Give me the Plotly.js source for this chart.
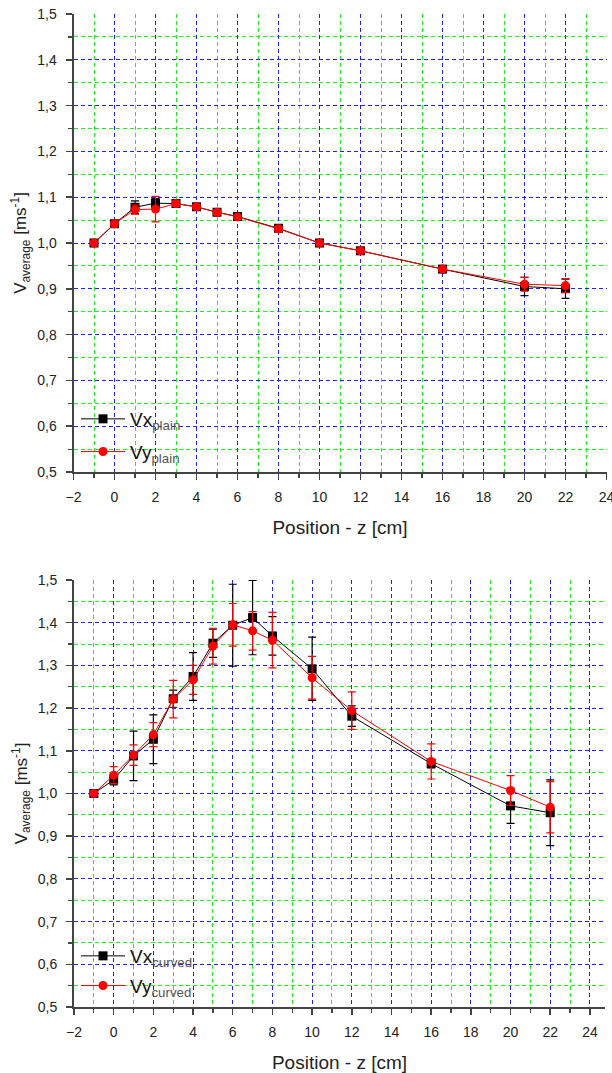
<!DOCTYPE html>
<html>
<head>
<meta charset="utf-8">
<script src="https://cdn.plot.ly/plotly-3.0.1.min.js"></script>
<style>html,body{margin:0;padding:0;background:#fff;}#chart{width:612px;height:1073px;}</style>
</head>
<body>
<div id="chart"></div>
<script>
// ---- data: plain (top panel) ----
const zPlain = [-1, 0, 1, 2, 3, 4, 5, 6, 8, 10, 12, 16, 20, 22];
const vxPlain = [1.000, 1.042, 1.078, 1.087, 1.086, 1.079, 1.067, 1.058, 1.032, 1.000, 0.983, 0.943, 0.905, 0.900];
const vxPlainErr = [0.003, 0.004, 0.014, 0.010, 0.006, 0.006, 0.006, 0.006, 0.005, 0.004, 0.004, 0.005, 0.020, 0.021];
const vyPlain = [1.000, 1.042, 1.073, 1.074, 1.086, 1.079, 1.067, 1.057, 1.031, 1.000, 0.983, 0.943, 0.910, 0.907];
const vyPlainErr = [0.003, 0.004, 0.010, 0.028, 0.006, 0.005, 0.005, 0.005, 0.004, 0.004, 0.004, 0.005, 0.015, 0.015];

// ---- data: curved (bottom panel) ----
const zCurved = [-1, 0, 1, 2, 3, 4, 5, 6, 7, 8, 10, 12, 16, 20, 22];
const vxCurved = [1.000, 1.032, 1.088, 1.127, 1.222, 1.274, 1.352, 1.394, 1.412, 1.369, 1.292, 1.181, 1.070, 0.971, 0.955];
const vxCurvedErr = [0.004, 0.012, 0.058, 0.057, 0.020, 0.056, 0.033, 0.096, 0.087, 0.045, 0.074, 0.024, 0.010, 0.041, 0.077];
const vyCurved = [1.000, 1.043, 1.090, 1.138, 1.221, 1.266, 1.345, 1.395, 1.381, 1.359, 1.271, 1.194, 1.075, 1.007, 0.968];
const vyCurvedErr = [0.004, 0.020, 0.024, 0.028, 0.044, 0.034, 0.042, 0.050, 0.045, 0.065, 0.050, 0.044, 0.041, 0.035, 0.060];

// ---- tick labels / positions ----
const xTickVals = [-2, 0, 2, 4, 6, 8, 10, 12, 14, 16, 18, 20, 22, 24];
const xMinorVals = [-1, 1, 3, 5, 7, 9, 11, 13, 15, 17, 19, 21, 23];
const yTickVals = [0.5, 0.6, 0.7, 0.8, 0.9, 1.0, 1.1, 1.2, 1.3, 1.4, 1.5];
const yMinorVals = [0.55, 0.65, 0.75, 0.85, 0.95, 1.05, 1.15, 1.25, 1.35, 1.45];

const FONT = 'Liberation Sans, Arial, sans-serif';
const BLACK = '#000000', RED = '#ff0000';
const BLUE_GRID = '#2020ff', GREEN_GRID = '#22ee22';

function series(x, y, err, color, symbol, name, xa, ya, legend, group) {
  return {
    x: x, y: y, type: 'scatter', mode: 'lines+markers', name: name,
    xaxis: xa, yaxis: ya, legend: legend, legendgroup: group,
    line: {color: color, width: 1},
    marker: {color: color, symbol: symbol, size: 9},
    error_y: {type: 'data', array: err, visible: true, color: color, thickness: 1.2, width: 4}
  };
}

const traces = [
  series(zPlain, vxPlain, vxPlainErr, BLACK, 'square', 'Vx<sub><span style="color:#555">plain</span></sub>', 'x', 'y', 'legend', 'a'),
  series(zPlain, vyPlain, vyPlainErr, RED, 'circle', 'Vy<sub><span style="color:#555">plain</span></sub>', 'x', 'y', 'legend', 'b'),
  series(zCurved, vxCurved, vxCurvedErr, BLACK, 'square', 'Vx<sub><span style="color:#555">curved</span></sub>', 'x2', 'y2', 'legend2', 'c'),
  series(zCurved, vyCurved, vyCurvedErr, RED, 'circle', 'Vy<sub><span style="color:#555">curved</span></sub>', 'x2', 'y2', 'legend2', 'd')
];

function xAxis(domain, anchor, range) {
  return {
    domain: domain, anchor: anchor, range: range, autorange: false,
    tickmode: 'array', tickvals: xTickVals,
    showline: true, linecolor: '#444', linewidth: 2,
    ticks: 'outside', ticklen: 6, tickwidth: 1.5, tickcolor: '#444',
    ticklabelstandoff: 5, ticklabeloverflow: 'allow',
    tickfont: {family: FONT, size: 14, color: '#222'},
    showgrid: true, gridcolor: BLUE_GRID, gridwidth: 1, griddash: '4px,3px',
    zeroline: false,
    minor: {tickmode: 'array', tickvals: xMinorVals, ticks: 'outside', ticklen: 4, tickwidth: 1.2, tickcolor: '#444',
            showgrid: true, gridcolor: GREEN_GRID, gridwidth: 1, griddash: '4px,3px'},
    title: {text: 'Position - z [cm]', font: {family: FONT, size: 19, color: '#222'}, standoff: 17}
  };
}
function yAxis(domain, anchor) {
  return {
    domain: domain, anchor: anchor, range: [0.5, 1.5], autorange: false,
    tickmode: 'array', tickvals: yTickVals, tickformat: '.1f',
    showline: true, linecolor: '#444', linewidth: 2,
    ticks: 'outside', ticklen: 6, tickwidth: 1.5, tickcolor: '#444',
    ticklabelstandoff: 6,
    tickfont: {family: FONT, size: 14, color: '#222'},
    showgrid: true, gridcolor: BLUE_GRID, gridwidth: 1, griddash: '4px,3px',
    zeroline: false,
    minor: {tickmode: 'array', tickvals: yMinorVals, ticks: 'outside', ticklen: 4, tickwidth: 1.2, tickcolor: '#444',
            showgrid: true, gridcolor: GREEN_GRID, gridwidth: 1, griddash: '4px,3px'},
    title: {text: 'V<sub>average</sub> [ms<sup>-1</sup>]', font: {family: FONT, size: 17, color: '#222'}, standoff: 6}
  };
}

const W = 612, H = 1073;
const layout = {
  width: W, height: H,
  margin: {l: 0, r: 0, t: 0, b: 0},
  paper_bgcolor: '#ffffff', plot_bgcolor: 'rgba(0,0,0,0)',
  separators: ',.',
  font: {family: FONT, color: '#222'},
  showlegend: true,
  xaxis: xAxis([73.5 / W, 606.5 / W], 'y', [-2, 24]),
  yaxis: yAxis([1 - 472 / H, 1 - 14 / H], 'x'),
  xaxis2: xAxis([74 / W, 605 / W], 'y2', [-2, 24.76]),
  yaxis2: yAxis([1 - 1007 / H, 1 - 580 / H], 'x2'),
  legend: {x: 76 / W, y: 1 - 400 / H, xanchor: 'left', yanchor: 'top',
           bgcolor: 'rgba(0,0,0,0)', borderwidth: 0, itemwidth: 44,
           font: {family: FONT, size: 19, color: '#111'}, tracegroupgap: 5},
  legend2: {x: 76 / W, y: 1 - 937 / H, xanchor: 'left', yanchor: 'top',
            bgcolor: 'rgba(0,0,0,0)', borderwidth: 0, itemwidth: 44,
            font: {family: FONT, size: 19, color: '#111'}, tracegroupgap: 2}
};

Plotly.newPlot('chart', traces, layout, {displayModeBar: false, staticPlot: true});
</script>
</body>
</html>
